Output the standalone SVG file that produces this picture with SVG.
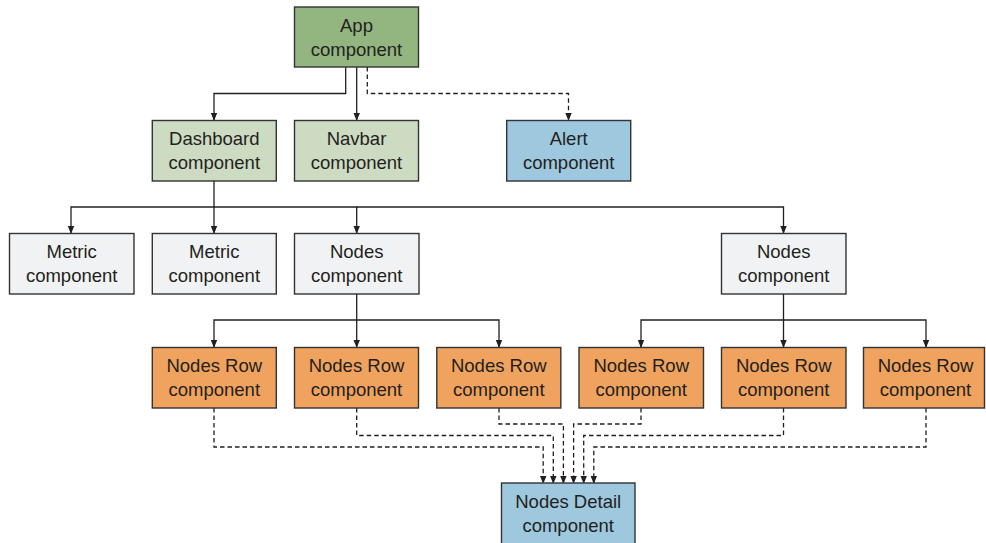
<svg xmlns="http://www.w3.org/2000/svg" width="986" height="543" viewBox="0 0 986 543">
<defs>
<marker id="ah" markerWidth="8" markerHeight="10" refX="7" refY="4" orient="auto" markerUnits="userSpaceOnUse" viewBox="0 0 8 8">
<path d="M0,0.8 L8,4 L0,7.2 Z" fill="#231f20"/>
</marker>
<style>
.box{stroke:#333;stroke-width:1.4}
.app{fill:#93b57f}
.lg{fill:#cddbc3}
.bl{fill:#9ec8de}
.gr{fill:#f1f2f3}
.or{fill:#f0a35e}
text{font-family:"Liberation Sans",Arial,sans-serif;font-size:18.5px;fill:#231f20;text-anchor:middle}
.c{fill:none;stroke:#231f20;stroke-width:1.3;marker-end:url(#ah)}
.d{stroke-dasharray:4.5 3}
</style>
</defs>
<g id="connectors">
<path class="c" d="M345.7,67 V93.5 H214 V120"/>
<path class="c" d="M356.7,67 V120"/>
<path class="c d" d="M367.3,67 V93.5 H568.5 V120"/>
<path class="c" d="M214,181 V207 H71 V233"/>
<path class="c" d="M214,207 V233"/>
<path class="c" d="M214,207 H356.7 V233"/>
<path class="c" d="M356.7,207 H783.5 V233"/>
<path class="c" d="M356.7,294 V320 H214 V347"/>
<path class="c" d="M356.7,320 V347"/>
<path class="c" d="M356.7,320 H499 V347"/>
<path class="c" d="M783.5,294 V320 H641 V347"/>
<path class="c" d="M783.5,320 V347"/>
<path class="c" d="M783.5,320 H926 V347"/>
<path class="c d" d="M214,408 V447 H543.2 V483"/>
<path class="c d" d="M356.7,408 V435.5 H553.3 V483"/>
<path class="c d" d="M499,408 V424 H563.4 V483"/>
<path class="c d" d="M641,408 V424 H573.6 V483"/>
<path class="c d" d="M783.5,408 V435.5 H583.7 V483"/>
<path class="c d" d="M926,408 V447 H593.8 V483"/>
</g>
<g id="app"><rect class="box app" x="294.5" y="7" width="124" height="60"/><text x="356.5" y="32">App</text><text x="356.5" y="55.5">component</text></g>
<g id="dashboard"><rect class="box lg" x="152.3" y="120.5" width="124" height="60.5"/><text x="214.3" y="145">Dashboard</text><text x="214.3" y="169">component</text></g>
<g id="navbar"><rect class="box lg" x="294.5" y="120.5" width="124" height="60.5"/><text x="356.5" y="145">Navbar</text><text x="356.5" y="169">component</text></g>
<g id="alert"><rect class="box bl" x="506.7" y="120.5" width="124" height="60.5"/><text x="568.7" y="145">Alert</text><text x="568.7" y="169">component</text></g>
<g id="metric1"><rect class="box gr" x="9.5" y="233.5" width="124.5" height="60.5"/><text x="71.7" y="258">Metric</text><text x="71.7" y="282">component</text></g>
<g id="metric2"><rect class="box gr" x="152.3" y="233.5" width="124" height="60.5"/><text x="214.3" y="258">Metric</text><text x="214.3" y="282">component</text></g>
<g id="nodes1"><rect class="box gr" x="294.5" y="233.5" width="124.5" height="60.5"/><text x="356.7" y="258">Nodes</text><text x="356.7" y="282">component</text></g>
<g id="nodes2"><rect class="box gr" x="721.5" y="233.5" width="124.5" height="60.5"/><text x="783.7" y="258">Nodes</text><text x="783.7" y="282">component</text></g>
<g id="row1"><rect class="box or" x="152.3" y="347.5" width="124" height="60.5"/><text x="214.3" y="372">Nodes Row</text><text x="214.3" y="396">component</text></g>
<g id="row2"><rect class="box or" x="294.5" y="347.5" width="124" height="60.5"/><text x="356.5" y="372">Nodes Row</text><text x="356.5" y="396">component</text></g>
<g id="row3"><rect class="box or" x="436.8" y="347.5" width="124" height="60.5"/><text x="498.8" y="372">Nodes Row</text><text x="498.8" y="396">component</text></g>
<g id="row4"><rect class="box or" x="579" y="347.5" width="124.5" height="60.5"/><text x="641.2" y="372">Nodes Row</text><text x="641.2" y="396">component</text></g>
<g id="row5"><rect class="box or" x="721.5" y="347.5" width="124.5" height="60.5"/><text x="783.7" y="372">Nodes Row</text><text x="783.7" y="396">component</text></g>
<g id="row6"><rect class="box or" x="863.5" y="347.5" width="121" height="60.5"/><text x="925.5" y="372">Nodes Row</text><text x="925.5" y="396">component</text></g>
<g id="detail"><rect class="box bl" x="501.5" y="483" width="133.5" height="62"/><text x="568.2" y="508">Nodes Detail</text><text x="568.2" y="532">component</text></g>
</svg>
